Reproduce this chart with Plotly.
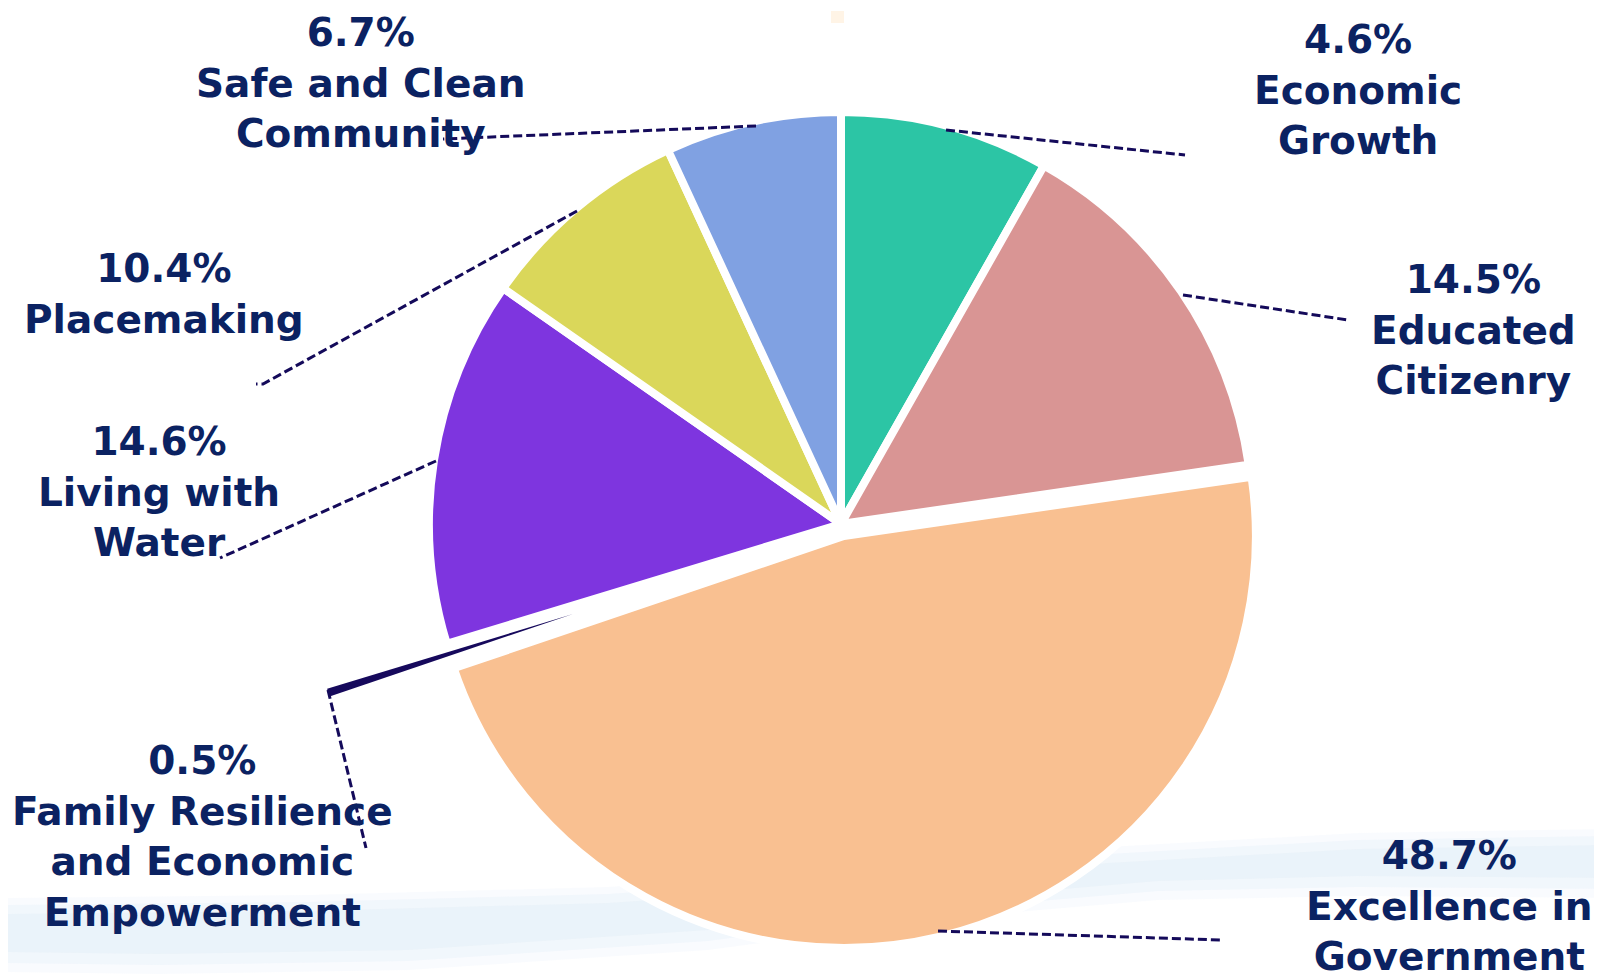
import plotly.graph_objects as go

W, H = 1602, 979

# ---- data ----
categories = ["Economic Growth", "Educated Citizenry", "Excellence in Government",
              "Family Resilience and Economic Empowerment", "Living with Water",
              "Placemaking", "Safe and Clean Community"]
# slice shares as drawn in the picture (percent)
shares = [8.2, 14.5, 47.1, 0.5, 14.4, 8.4, 6.9]
# percentages printed on the labels
pct_labels = ["4.6%", "14.5%", "48.7%", "0.5%", "14.6%", "10.4%", "6.7%"]
label_names = ["Economic<br>Growth", "Educated<br>Citizenry", "Excellence in<br>Government",
               "Family Resilience<br>and Economic<br>Empowerment", "Living with<br>Water",
               "Placemaking", "Safe and Clean<br>Community"]

# ---- styling ----
colors = ["#2CC5A5", "#D99594", "#F9C091", "#16095C", "#7E35DF", "#DAD75A", "#80A1E2"]
pulls = [0, 0, 0.03, 0, 0, 0, 0]
NAVY_IDX = 3
TEXT = "#0B2262"
LINE = "#140A5A"

def domain(cx, cy, r, pull):
    box = 2 * r * (1 + pull)
    return dict(x=[(cx - box / 2) / W, (cx + box / 2) / W],
                y=[1 - (cy + box / 2) / H, 1 - (cy - box / 2) / H])

def px(x, y):
    return x / W, 1 - y / H

def path_of(pts, close=False):
    s = ""
    for i, (x, y) in enumerate(pts):
        a, b = px(x, y)
        s += ("M " if i == 0 else " L ") + f"{a:.5f},{b:.5f}"
    return s + (" Z" if close else "")

main_colors = [c if i != NAVY_IDX else "rgba(0,0,0,0)" for i, c in enumerate(colors)]
navy_colors = [c if i == NAVY_IDX else "rgba(0,0,0,0)" for i, c in enumerate(colors)]

fig = go.Figure()
fig.add_trace(go.Pie(
    labels=categories, values=shares, sort=False, direction="clockwise", rotation=0,
    marker=dict(colors=main_colors, line=dict(color="white", width=8)),
    pull=pulls, textinfo="none", hoverinfo="skip", showlegend=False,
    domain=domain(833, 516, 412, max(pulls)),
))
# exploded thin slice
fig.add_trace(go.Pie(
    labels=categories, values=shares, sort=False, direction="clockwise", rotation=0,
    marker=dict(colors=navy_colors, line=dict(width=0)),
    textinfo="none", hoverinfo="skip", showlegend=False,
    domain=domain(565, 606, 257, 0),
))

# label positions (pixel centres)
label_pos = [(1350, 82), (1465, 322), (1441, 898), (194, 828), (151, 484), (156, 286), (353, 75)]
for pct, name, (x, y) in zip(pct_labels, label_names, label_pos):
    ax, ay = px(x, y)
    fig.add_annotation(x=ax, y=ay, xref="paper", yref="paper", showarrow=False,
                       text=f"<b>{pct}<br>{name}</b>", align="center",
                       xanchor="center", yanchor="middle",
                       font=dict(family="DejaVu Sans", size=39, color=TEXT))

# leader lines (pixel coords)
leaders = [
    [(938, 122), (1177, 147)],
    [(1175, 287), (1340, 312)],
    [(930, 923), (1213, 932)],
    [(320, 682), (358, 840)],
    [(428, 453), (212, 550)],
    [(569, 203), (255, 376), (248, 376)],
    [(748, 118), (435, 131)],
]
shapes = []
# faint background swoosh (layered for a soft edge)
bands = [
    ([(0, 890), (300, 887), (600, 879), (900, 859), (1100, 839), (1350, 825), (1602, 821),
      (1602, 890), (1350, 888), (1150, 892), (950, 909), (700, 942), (400, 962), (150, 966), (0, 964)], 0.15),
    ([(0, 897), (300, 894), (600, 886), (900, 866), (1100, 846), (1350, 832), (1602, 828),
      (1602, 881), (1350, 879), (1150, 883), (950, 900), (700, 933), (400, 953), (150, 957), (0, 955)], 0.22),
    ([(0, 906), (300, 903), (600, 895), (900, 875), (1100, 855), (1350, 841), (1602, 837),
      (1602, 870), (1350, 868), (1150, 873), (950, 890), (700, 922), (400, 942), (150, 946), (0, 944)], 0.25),
]
for pts, op in bands:
    shapes.append(dict(type="path", xref="paper", yref="paper", layer="below",
                       path=path_of(pts, True), fillcolor=f"rgba(214,230,245,{op})",
                       line=dict(width=0)))
# small mark at top
x0, y0 = px(823, 3)
x1, y1 = px(836, 15)
shapes.append(dict(type="rect", xref="paper", yref="paper", x0=x0, y0=y1, x1=x1, y1=y0,
                   fillcolor="#FFF4E6", line=dict(width=0), layer="below"))
for pts in leaders:
    shapes.append(dict(type="path", xref="paper", yref="paper", path=path_of(pts),
                       line=dict(color=LINE, width=3, dash="9px,4px")))

fig.update_layout(
    width=W, height=H, margin=dict(l=0, r=0, t=0, b=0),
    paper_bgcolor="white", plot_bgcolor="white",
    shapes=shapes,
)
fig.write_html("out.html")
